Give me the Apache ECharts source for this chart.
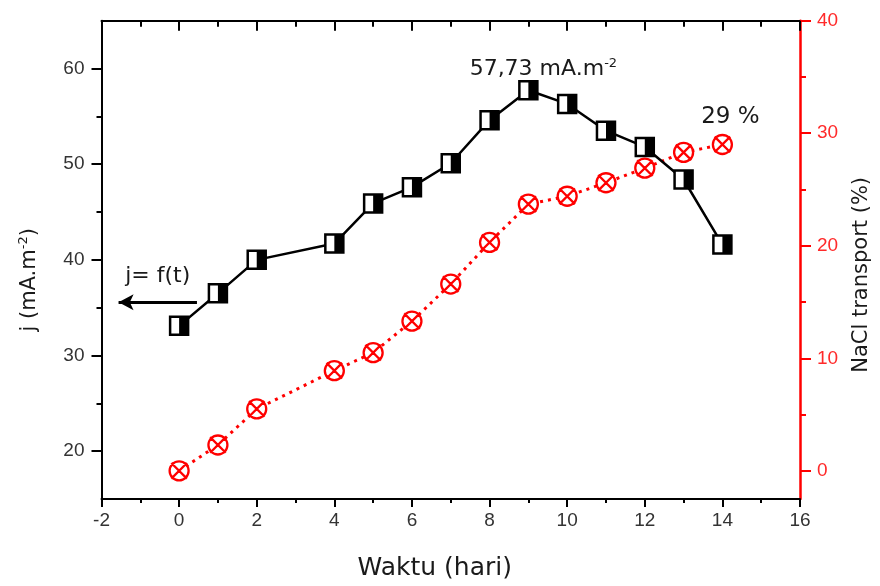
<!DOCTYPE html>
<html>
<head>
<meta charset="utf-8">
<script src="https://cdn.jsdelivr.net/npm/echarts@6/dist/echarts.min.js"></script>
<style>html,body{margin:0;padding:0;background:#fff}#c{width:880px;height:586px}</style>
</head>
<body>
<div id="c"></div>
<script>
// ---- data ----
const days = [0, 1, 2, 4, 5, 6, 7, 8, 9, 10, 11, 12, 13, 14];
const currentDensity = [33.1, 36.5, 40.0, 41.7, 45.9, 47.6, 50.1, 54.6, 57.73, 56.3, 53.5, 51.8, 48.4, 41.6];
const naclTransport = [0, 2.3, 5.5, 8.9, 10.5, 13.3, 16.6, 20.3, 23.7, 24.4, 25.6, 26.9, 28.3, 29.0];
const leftMajorTicks = [20, 30, 40, 50, 60];
const leftMinorTicks = [25, 35, 45, 55];
const rightMajorTicks = [0, 10, 20, 30, 40];
const rightMinorTicks = [5, 15, 25, 35];
const arrowStart = [0.46, 35.56];
const arrowEnd = [-1.56, 35.56];

const jData = days.map((d, i) => [d, currentDensity[i]]);
const naclData = days.map((d, i) => [d, naclTransport[i]]);
const peakIdx = currentDensity.indexOf(Math.max(...currentDensity));
const lastIdx = days.length - 1;

const TXT = '#1a1a1a';
const tickFont = {fontFamily: 'Liberation Sans', fontSize: 19, color: '#333'};
const circleX = 'path://M10,1 A9,9 0 1,1 9.99,1 Z M2.6,2.6 L17.4,17.4 M17.4,2.6 L2.6,17.4';

const chart = echarts.init(document.getElementById('c'), null, {renderer: 'canvas'});
chart.setOption({
  animation: false,
  backgroundColor: '#fff',
  grid: {left: 101.5, right: 77.5, top: 20.7, bottom: 86.7, containLabel: false},
  xAxis: [
    {
      type: 'value', min: -2, max: 16, interval: 2, position: 'bottom',
      axisLine: {onZero: false, lineStyle: {color: '#000', width: 2}},
      axisTick: {length: 8, lineStyle: {color: '#000', width: 2}},
      minorTick: {show: true, splitNumber: 2, length: 4, lineStyle: {color: '#000', width: 2}},
      axisLabel: Object.assign({margin: 12}, tickFont),
      splitLine: {show: false},
      name: 'Waktu (hari)', nameLocation: 'middle', nameGap: 57,
      nameTextStyle: {fontFamily: 'DejaVu Sans', fontSize: 25, color: TXT, padding: [0, 32, 0, 0]}
    },
    {
      type: 'value', min: -2, max: 16, interval: 2, position: 'top',
      axisLine: {onZero: false, lineStyle: {color: '#000', width: 2}},
      axisTick: {inside: true, length: 10, lineStyle: {color: '#000', width: 2}},
      minorTick: {show: true, splitNumber: 2, length: 6, lineStyle: {color: '#000', width: 2}},
      axisLabel: {show: false},
      splitLine: {show: false}
    }
  ],
  yAxis: [
    {
      type: 'value', min: 15, max: 65, position: 'left',
      axisLine: {onZero: false, lineStyle: {color: '#000', width: 2}},
      axisTick: {customValues: leftMajorTicks, length: 10, lineStyle: {color: '#000', width: 2}},
      axisLabel: Object.assign({customValues: leftMajorTicks, margin: 17}, tickFont),
      splitLine: {show: false},
      name: '{a|j (mA.m}{b|-2}{a|)}', nameLocation: 'middle', nameGap: 59,
      nameTextStyle: {
        padding: [0, 40, 0, 0],
        rich: {
          a: {fontFamily: 'DejaVu Sans', fontSize: 21, color: TXT},
          b: {fontFamily: 'DejaVu Sans', fontSize: 13, color: TXT, padding: [0, 0, 12, 0]}
        }
      }
    },
    {
      type: 'value', min: 15, max: 65, position: 'left',
      axisLine: {show: false, onZero: false},
      axisTick: {customValues: leftMinorTicks, length: 5, lineStyle: {color: '#000', width: 2}},
      axisLabel: {show: false},
      splitLine: {show: false}
    },
    {
      type: 'value', min: -2.5, max: 40, position: 'right',
      axisLine: {onZero: false, lineStyle: {color: '#ff0000', width: 2.5}},
      axisTick: {customValues: rightMajorTicks, length: 11, lineStyle: {color: '#ff0000', width: 2}},
      axisLabel: Object.assign({}, tickFont, {customValues: rightMajorTicks, margin: 17, color: '#ff2a2a'}),
      splitLine: {show: false},
      name: 'NaCl transport (%)', nameLocation: 'middle', nameGap: 51,
      nameTextStyle: {fontFamily: 'DejaVu Sans', fontSize: 21, color: TXT, padding: [0, 30, 0, 0]}
    },
    {
      type: 'value', min: -2.5, max: 40, position: 'right',
      axisLine: {show: false, onZero: false},
      axisTick: {customValues: rightMinorTicks, length: 6, lineStyle: {color: '#ff0000', width: 2}},
      axisLabel: {show: false},
      splitLine: {show: false}
    }
  ],
  series: [
    {
      name: 'NaCl', type: 'line', xAxisIndex: 0, yAxisIndex: 2, data: naclData, z: 2,
      symbol: circleX, symbolSize: 19, symbolKeepAspect: true,
      lineStyle: {color: '#ff0000', width: 3, type: [3, 5]},
      itemStyle: {color: '#fff', borderColor: '#ff0000', borderWidth: 2.3},
      markPoint: {
        silent: true, symbol: 'circle', symbolSize: 0,
        label: {
          show: true, position: 'inside', offset: [8, -27],
          formatter: () => Math.round(naclTransport[lastIdx]) + ' %',
          fontFamily: 'DejaVu Sans', fontSize: 23, color: TXT
        },
        data: [{coord: naclData[lastIdx]}]
      }
    },
    {
      name: 'j', type: 'line', xAxisIndex: 0, yAxisIndex: 0, data: jData, z: 3,
      symbol: 'rect', symbolSize: 18,
      lineStyle: {color: '#000', width: 2.5},
      itemStyle: {color: '#fff', borderColor: '#000', borderWidth: 2.5},
      markPoint: {
        silent: true, symbol: 'circle', symbolSize: 0,
        label: {
          show: true, position: 'inside', offset: [15, -21],
          formatter: () => '{a|' + currentDensity[peakIdx].toFixed(2).replace('.', ',') + ' mA.m}{b|-2}',
          rich: {
            a: {fontFamily: 'DejaVu Sans', fontSize: 22, color: TXT},
            b: {fontFamily: 'DejaVu Sans', fontSize: 13, color: TXT, padding: [0, 0, 12, 0]}
          }
        },
        data: [{coord: jData[peakIdx]}]
      },
      markLine: {
        silent: true, symbol: ['none', 'arrow'], symbolSize: [12, 15],
        lineStyle: {color: '#000', width: 3, type: 'solid'},
        label: {
          show: true, position: 'middle', distance: 15,
          formatter: 'j= f(t)', fontFamily: 'DejaVu Sans', fontSize: 22, color: TXT
        },
        data: [[{coord: arrowStart}, {coord: arrowEnd}]]
      }
    },
    {
      name: 'jHalf', type: 'scatter', xAxisIndex: 0, yAxisIndex: 0, data: jData, z: 4,
      symbol: 'rect', symbolSize: [9, 18], symbolOffset: [4.5, 0],
      itemStyle: {color: '#000', opacity: 1}, silent: true
    }
  ]
});
</script>
</body>
</html>
